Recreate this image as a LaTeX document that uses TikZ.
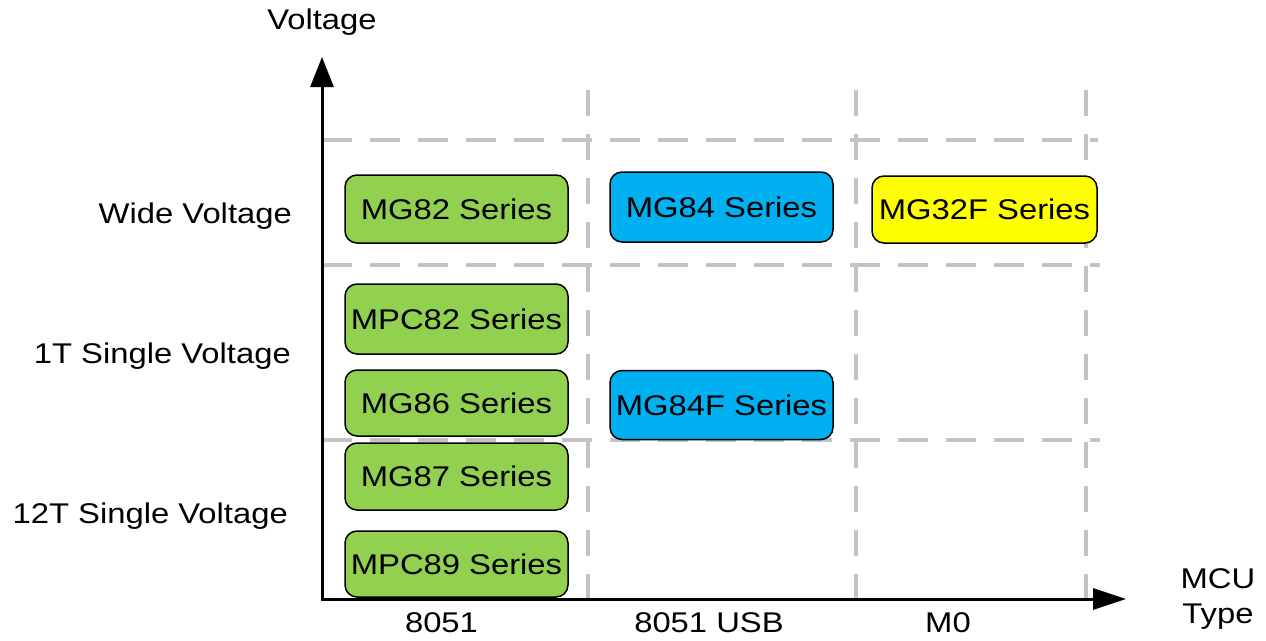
\documentclass[tikz,border=0pt]{standalone}
\usepackage{fontspec}
\setmainfont{Liberation Sans}[FakeStretch=1.15]
\usetikzlibrary{arrows.meta}
\definecolor{boxgreen}{HTML}{92D050}
\definecolor{boxblue}{HTML}{00B0F0}
\definecolor{boxyellow}{HTML}{FFFF00}
\definecolor{gridgray}{HTML}{C3C3C3}
\tikzset{
  lbl/.style={font=\fontsize{28.5}{34}\selectfont, inner sep=0pt},
  gridline/.style={draw=gridgray, line width=3.6pt, dash pattern=on 30pt off 18pt},
  vgridline/.style={draw=gridgray, line width=3.6pt, dash pattern=on 26pt off 18pt},
  axisline/.style={draw=black, line width=3pt,
    {Triangle[length=30pt,width=23pt]}-{Triangle[length=33pt,width=21pt]}},
  series/.style={draw=black, line width=1.5pt, rounded corners=12pt,
    minimum width=223pt, minimum height=68pt, inner sep=0pt,
    font=\fontsize{28.5}{34}\selectfont},
}
\begin{document}
\begin{tikzpicture}[x=1pt,y=-1pt]
\useasboundingbox (0,0) rectangle (1266,640);
% grid coordinates
\coordinate (h1a) at (322,140); \coordinate (h1b) at (1098,140);
\coordinate (h2a) at (322,265); \coordinate (h2b) at (1100,265);
\coordinate (h3a) at (322,440); \coordinate (h3b) at (1100,440);
\coordinate (v1a) at (588,90);  \coordinate (v1b) at (588,599);
\coordinate (v2a) at (856,90);  \coordinate (v2b) at (856,599);
\coordinate (v3a) at (1086,90); \coordinate (v3b) at (1086,599);
\draw[gridline] (h1a) -- (h1b);
\draw[gridline] (h2a) -- (h2b);
\draw[gridline] (h3a) -- (h3b);
\draw[vgridline] (v1a) -- (v1b);
\draw[vgridline] (v2a) -- (v2b);
\draw[vgridline] (v3a) -- (v3b);
% axes
\coordinate (ytip) at (322,57);
\coordinate (O) at (322,599);
\coordinate (xtip) at (1126,599);
\draw[axisline] (ytip) -- (O) -- (xtip);
% axis labels
\node[lbl, anchor=base] (ylab) at (322,29) {Voltage};
\node[lbl, anchor=base] (mcu) at (1218,588) {MCU};
\node[lbl, anchor=base] (type) at (1218,623) {Type};
\node[lbl, anchor=base east] (wide) at (292,223) {Wide Voltage};
\node[lbl, anchor=base east] (onet) at (291,363) {1T Single Voltage};
\node[lbl, anchor=base east] (twelvet) at (288,523) {12T Single Voltage};
\node[lbl, anchor=base] (c8051) at (441.5,632) {8051};
\node[lbl, anchor=base] (cusb) at (709,632) {8051 USB};
\node[lbl, anchor=base] (cm0) at (948,632) {M0};
% series boxes
\node[series, fill=boxgreen] (mg82) at (456.5,209) {MG82 Series};
\node[series, fill=boxblue, minimum height=70pt] (mg84) at (721.5,207) {MG84 Series};
\node[series, fill=boxyellow, minimum width=225pt, minimum height=67pt] (mg32f) at (984.5,209.5) {MG32F Series};
\node[series, fill=boxgreen, minimum height=70pt] (mpc82) at (456.5,319) {MPC82 Series};
\node[series, fill=boxgreen, minimum height=66pt] (mg86) at (456.5,403) {MG86 Series};
\node[series, fill=boxblue, minimum height=69pt] (mg84f) at (721.5,405) {MG84F Series};
\node[series, fill=boxgreen, minimum height=67pt] (mg87) at (456.5,476.5) {MG87 Series};
\node[series, fill=boxgreen, minimum height=66pt] (mpc89) at (456.5,564) {MPC89 Series};
\end{tikzpicture}
\end{document}
